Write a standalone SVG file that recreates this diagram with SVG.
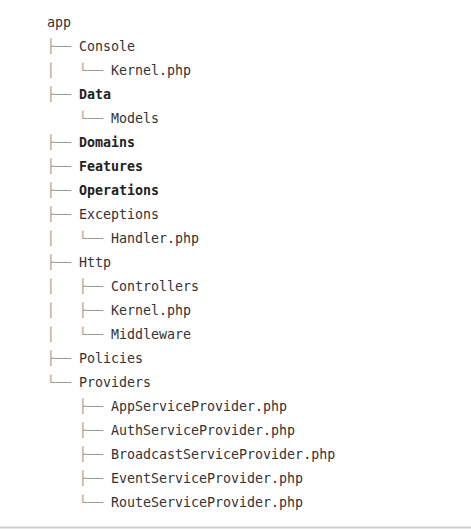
<svg xmlns="http://www.w3.org/2000/svg" width="471" height="529" viewBox="0 0 471 529">
<style>
text{font-family:"DejaVu Sans Mono","Liberation Mono",monospace;font-size:13.3px;fill:#333}
.b{font-weight:bold;fill:#222}
.t{fill:#9a9a9a}
</style>
<rect width="471" height="529" fill="#fff"/>
<g id="connectors">
<text class="t" x="47" y="51">├──</text>
<text class="t" x="47" y="75">│</text><text class="t" x="79" y="75">└──</text>
<text class="t" x="47" y="99">├──</text>
<text class="t" x="79" y="123">└──</text>
<text class="t" x="47" y="147">├──</text>
<text class="t" x="47" y="171">├──</text>
<text class="t" x="47" y="195">├──</text>
<text class="t" x="47" y="219">├──</text>
<text class="t" x="47" y="243">│</text><text class="t" x="79" y="243">└──</text>
<text class="t" x="47" y="267">├──</text>
<text class="t" x="47" y="291">│</text><text class="t" x="79" y="291">├──</text>
<text class="t" x="47" y="315">│</text><text class="t" x="79" y="315">├──</text>
<text class="t" x="47" y="339">│</text><text class="t" x="79" y="339">└──</text>
<text class="t" x="47" y="363">├──</text>
<text class="t" x="47" y="387">└──</text>
<text class="t" x="79" y="411">├──</text>
<text class="t" x="79" y="435">├──</text>
<text class="t" x="79" y="459">├──</text>
<text class="t" x="79" y="483">├──</text>
<text class="t" x="79" y="507">└──</text>
</g>
<g id="app"><text x="47" y="27">app</text></g>
<g id="console"><text x="79" y="51">Console</text></g>
<g id="console-kernel"><text x="111" y="75">Kernel.php</text></g>
<g id="data"><text class="b" x="79" y="99">Data</text></g>
<g id="models"><text x="111" y="123">Models</text></g>
<g id="domains"><text class="b" x="79" y="147">Domains</text></g>
<g id="features"><text class="b" x="79" y="171">Features</text></g>
<g id="operations"><text class="b" x="79" y="195">Operations</text></g>
<g id="exceptions"><text x="79" y="219">Exceptions</text></g>
<g id="handler"><text x="111" y="243">Handler.php</text></g>
<g id="http"><text x="79" y="267">Http</text></g>
<g id="controllers"><text x="111" y="291">Controllers</text></g>
<g id="http-kernel"><text x="111" y="315">Kernel.php</text></g>
<g id="middleware"><text x="111" y="339">Middleware</text></g>
<g id="policies"><text x="79" y="363">Policies</text></g>
<g id="providers"><text x="79" y="387">Providers</text></g>
<g id="app-sp"><text x="111" y="411">AppServiceProvider.php</text></g>
<g id="auth-sp"><text x="111" y="435">AuthServiceProvider.php</text></g>
<g id="broadcast-sp"><text x="111" y="459">BroadcastServiceProvider.php</text></g>
<g id="event-sp"><text x="111" y="483">EventServiceProvider.php</text></g>
<g id="route-sp"><text x="111" y="507">RouteServiceProvider.php</text></g>
<line x1="0" y1="527.5" x2="471" y2="527.5" stroke="#cfcfcf" stroke-width="2"/>
</svg>
